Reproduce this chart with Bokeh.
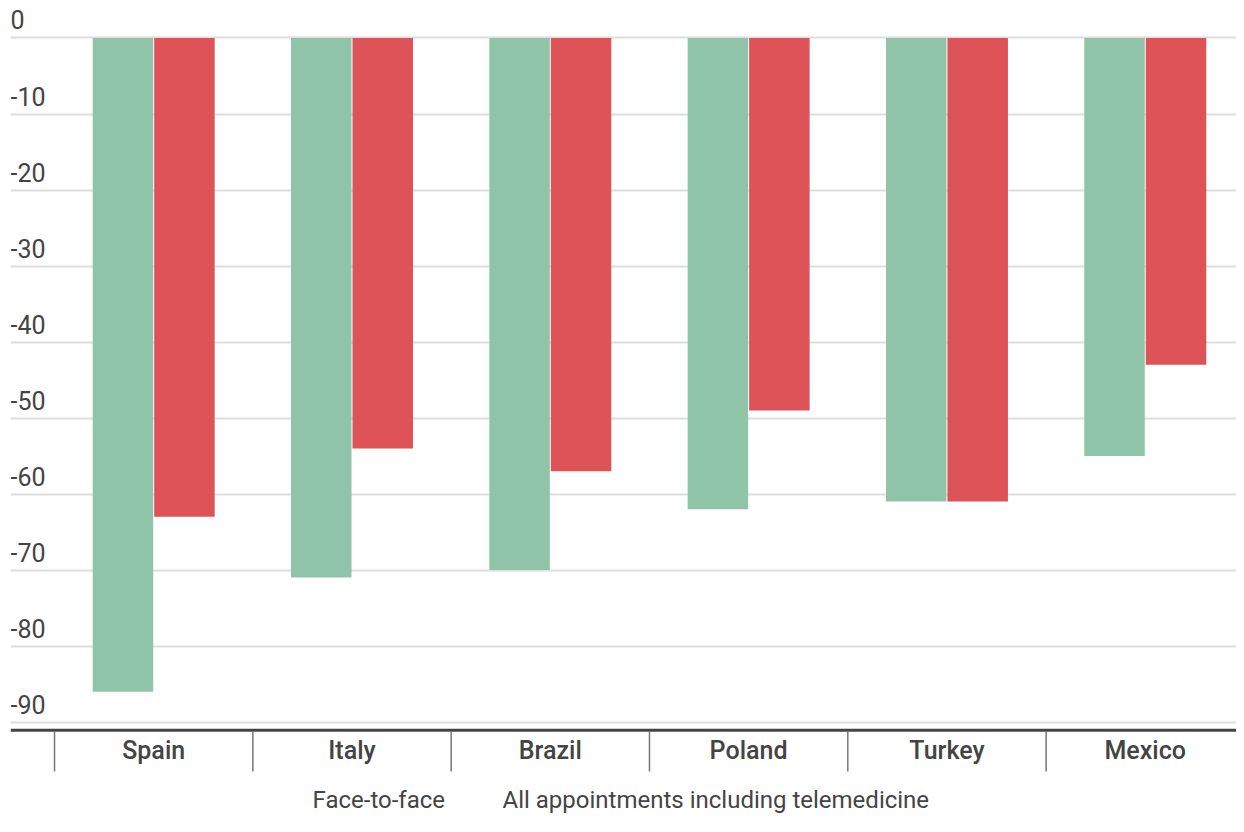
from bokeh.plotting import figure
from bokeh.models import Range1d, FixedTicker, Grid, ColumnDataSource
from bokeh.core.properties import value
from bokeh.embed import file_html
from bokeh.resources import INLINE

countries = ["Spain", "Italy", "Brazil", "Poland", "Turkey", "Mexico"]
face_to_face = [-86, -71, -70, -62, -61, -55]
all_appointments = [-63, -54, -57, -49, -61, -43]
y_ticks = [0, -10, -20, -30, -40, -50, -60, -70, -80, -90]
y_tick_labels = ["0", "-10", "-20", "-30", "-40", "-50", "-60", "-70", "-80", "-90"]
legend_labels = ["Face-to-face", "All appointments including telemedicine"]

GREEN = "#8fc4a9"
RED = "#dd5357"
TEXT = "#444444"

X0, X1 = -0.222, 5.96
p = figure(width=1236, height=816, output_backend="svg", toolbar_location=None,
           x_range=Range1d(X0, X1), y_range=Range1d(-102.43, 4.934),
           x_axis_type=None, y_axis_type=None,
           min_border_left=10, min_border_right=0, min_border_top=0, min_border_bottom=0)
p.outline_line_color = None
p.background_fill_color = "white"

grid = Grid(dimension=1, ticker=FixedTicker(ticks=y_ticks),
            grid_line_color="#dddddd", grid_line_width=2)
p.add_layout(grid)

n = len(countries)
centers = [i + 0.5 for i in range(n)]
bw = 0.305
src = ColumnDataSource(dict(
    xg=[c - 0.155 for c in centers], xr=[c + 0.155 for c in centers],
    g=face_to_face, r=all_appointments))
p.vbar(x="xg", top=0, bottom="g", width=bw, source=src, fill_color=GREEN, line_color=None)
p.vbar(x="xr", top=0, bottom="r", width=bw, source=src, fill_color=RED, line_color=None)

# y tick labels (above grid lines, left aligned)
p.text(x=[X0] * len(y_ticks), y=y_ticks, text=y_tick_labels,
       text_font=value("Roboto"), text_font_size="25px", text_color=TEXT,
       text_align="left", text_baseline="alphabetic", y_offset=-18)

# bottom axis line and dividers
p.segment(x0=[X0], y0=[-91.08], x1=[X1], y1=[-91.08], line_color="#444444", line_width=3)
p.segment(x0=list(range(n + 1)), y0=[-91.2] * (n + 1), x1=list(range(n + 1)),
          y1=[-96.5] * (n + 1), line_color="#777777", line_width=1.5)

# category labels
p.text(x=centers, y=[-93.75] * n, text=countries,
       text_font=value("Roboto Medium"), text_font_size="25px", text_color=TEXT,
       text_align="center", text_baseline="alphabetic")

# legend (text only)
p.text(x=[1.301, 2.259], y=[-100.2, -100.2], text=legend_labels,
       text_font=value("Roboto"), text_font_size="24px", text_color=TEXT,
       text_align="left", text_baseline="alphabetic")

open("out.html", "w").write(file_html(p, INLINE))
